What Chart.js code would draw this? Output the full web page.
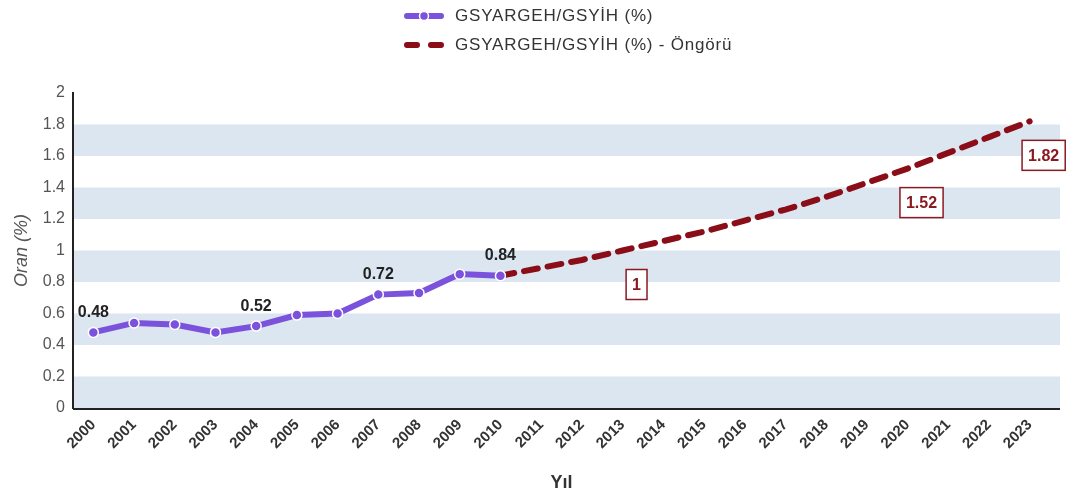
<!DOCTYPE html>
<html>
<head>
<meta charset="utf-8">
<script src="https://cdn.jsdelivr.net/npm/chart.js@4"></script>
<style>
  body { margin: 0; background: #fff; font-family: "Liberation Sans", Arial, sans-serif; }
  #wrap { position: relative; width: 1079px; height: 498px; }
  #legend { position: absolute; left: 403px; top: 1px; font-size: 17px; letter-spacing: 0.8px; color: #333; }
  #legend div { height: 29px; display: flex; align-items: center; }
  #legend svg { margin-right: 10px; }
</style>
</head>
<body>
<div id="wrap">
  <canvas id="oran" width="1079" height="498"></canvas>
  <div id="legend">
    <div><svg width="42" height="14"><line x1="4" y1="7" x2="38" y2="7" stroke="#7b52dc" stroke-width="6" stroke-linecap="round"/><circle cx="21" cy="7" r="4.5" fill="#7b52dc" stroke="#fff" stroke-width="1.5"/></svg>GSYARGEH/GSYİH (%)</div>
    <div><svg width="42" height="14"><line x1="4" y1="7" x2="38" y2="7" stroke="#8a0d18" stroke-width="6" stroke-linecap="round" stroke-dasharray="10 14"/></svg>GSYARGEH/GSYİH (%) - Öngörü</div>
  </div>
</div>
<script>
var years = ['2000', '2001', '2002', '2003', '2004', '2005', '2006', '2007', '2008', '2009', '2010', '2011',
  '2012', '2013', '2014', '2015', '2016', '2017', '2018', '2019', '2020', '2021', '2022', '2023'];
var actual = [0.48, 0.54, 0.53, 0.48, 0.52, 0.59, 0.60, 0.72, 0.73, 0.85, 0.84];
var forecast = [null, null, null, null, null, null, null, null, null, null,
  0.84, 0.89, 0.94, 1.0, 1.06, 1.12, 1.19, 1.26, 1.34, 1.43, 1.52, 1.62, 1.72, 1.82];
var yTicks = [0, 0.2, 0.4, 0.6, 0.8, 1, 1.2, 1.4, 1.6, 1.8, 2];
// which points carry a value label
var actualLabelAt = [0, 4, 7, 10];
var forecastLabelAt = [13, 20, 23];

var font = '"Liberation Sans", Arial, sans-serif';

// light blue stripes behind the plot
var stripes = {
  id: 'stripes',
  beforeDraw: function (chart) {
    var ctx = chart.ctx, y = chart.scales.y, a = chart.chartArea;
    ctx.save();
    ctx.fillStyle = '#dce6f0';
    for (var i = 0; i < yTicks.length - 1; i += 2) {
      var top = y.getPixelForValue(yTicks[i + 1]);
      var bot = y.getPixelForValue(yTicks[i]);
      ctx.fillRect(a.left, top, a.right + 10 - a.left, bot - top);
    }
    ctx.strokeStyle = '#222';
    ctx.lineWidth = 2;
    ctx.beginPath();
    ctx.moveTo(a.left, a.bottom + 1);
    ctx.lineTo(a.right + 10, a.bottom + 1);
    ctx.stroke();
    ctx.restore();
  }
};

var valueLabels = {
  id: 'valueLabels',
  afterDatasetsDraw: function (chart) {
    var ctx = chart.ctx;
    ctx.save();
    ctx.textAlign = 'center';
    ctx.textBaseline = 'middle';
    ctx.font = 'bold 16px ' + font;
    ctx.fillStyle = '#222';
    var m0 = chart.getDatasetMeta(0).data;
    actualLabelAt.forEach(function (i) {
      ctx.fillText(String(actual[i]), m0[i].x, m0[i].y - 20);
    });
    var m1 = chart.getDatasetMeta(1).data;
    ctx.font = 'bold 16px ' + font;
    forecastLabelAt.forEach(function (i) {
      var txt = String(forecast[i]);
      var w = ctx.measureText(txt).width + 12;
      var cx = m1[i].x + 14, cy = m1[i].y + 34;
      ctx.fillStyle = '#fff';
      ctx.fillRect(cx - w / 2, cy - 15, w, 30);
      ctx.strokeStyle = '#8a1a22';
      ctx.lineWidth = 1.5;
      ctx.strokeRect(cx - w / 2, cy - 15, w, 30);
      ctx.fillStyle = '#8a1a22';
      ctx.fillText(txt, cx, cy + 1);
    });
    ctx.restore();
  }
};

var oran = document.getElementById('oran').getContext('2d');
var chart = new Chart(oran, {
  type: 'line',
  data: {
    labels: years,
    datasets: [{
      label: 'GSYARGEH/GSYİH (%)',
      data: actual,
      borderColor: '#7b52dc',
      backgroundColor: '#7b52dc',
      borderWidth: 6,
      pointRadius: 5,
      pointBorderColor: '#fff',
      pointBorderWidth: 1.5,
      pointBackgroundColor: '#7b52dc',
      tension: 0,
      order: 1
    }, {
      label: 'GSYARGEH/GSYİH (%) - Öngörü',
      data: forecast,
      borderColor: '#8a0d18',
      borderWidth: 6,
      borderDash: [14, 10],
      borderCapStyle: 'round',
      pointRadius: 0,
      tension: 0,
      order: 2
    }]
  },
  options: {
    responsive: false,
    animation: false,
    layout: { padding: { left: 0, right: 29, top: 93, bottom: 0 } },
    plugins: {
      legend: { display: false },
      tooltip: { enabled: false }
    },
    scales: {
      x: {
        offset: true,
        grid: { display: false },
        border: { display: false },
        ticks: {
          maxRotation: 45, minRotation: 45, autoSkip: false, padding: 0,
          color: '#333', font: { family: font, size: 15, weight: 'bold' }
        },
        title: {
          display: true, text: 'Yıl', color: '#333',
          font: { family: font, size: 18, weight: 'bold' },
          padding: { top: 4, bottom: 4 }
        },
        afterFit: function (s) { s.height = 90; }
      },
      y: {
        min: 0, max: 2,
        grid: { display: false },
        border: { display: true, color: '#222', width: 2 },
        afterBuildTicks: function (s) {
          s.ticks = yTicks.map(function (v) { return { value: v }; });
        },
        ticks: {
          padding: 0, color: '#555',
          font: { family: font, size: 16 },
          callback: function (v) { return String(v); }
        },
        title: {
          display: true, text: 'Oran (%)', color: '#555',
          font: { family: font, size: 18, style: 'italic' },
          padding: { top: 11, bottom: 4 }
        },
        afterFit: function (s) { s.width = 73; }
      }
    }
  },
  plugins: [stripes, valueLabels]
});
</script>
</body>
</html>
